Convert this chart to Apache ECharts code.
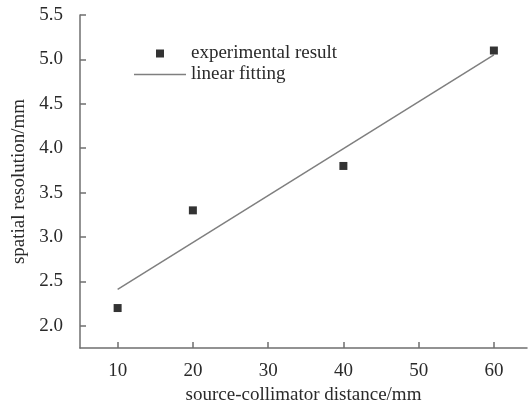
<!DOCTYPE html>
<html><head><meta charset="utf-8">
<script src="https://cdn.jsdelivr.net/npm/echarts@6/dist/echarts.min.js"></script>
<style>html,body{margin:0;padding:0;background:#fff}#c{width:528px;height:406px}</style>
</head><body><div id="c"></div>
<script>
const expX = [10, 20, 40, 60];
const expY = [2.2, 3.3, 3.8, 5.1];
const fitX = [10, 60];
const fitY = [2.41, 5.05];
const xTicks = [10, 20, 30, 40, 50, 60];
const yTicks = [2.0, 2.5, 3.0, 3.5, 4.0, 4.5, 5.0, 5.5];
const seriesNames = ['experimental result', 'linear fitting'];
const xName = 'source-collimator distance/mm';
const yName = 'spatial resolution/mm';

const font = '"Liberation Serif","Times New Roman",serif';
const axisColor = '#6f6f6f';
const textColor = '#2a2a2a';
const fitColor = '#7f7f7f';
const chart = echarts.init(document.getElementById('c'));
chart.setOption({
  animation: false,
  backgroundColor: '#fff',
  grid: {left: 80, top: 15, right: 1, bottom: 58, outerBoundsMode: 'none', containLabel: false},
  legend: {
    left: 129, top: 39, orient: 'vertical', itemWidth: 52, itemHeight: 8, itemGap: 2,
    symbolKeepAspect: true,
    textStyle: {fontFamily: font, fontSize: 19, color: textColor},
    data: [
      {name: seriesNames[0], icon: 'path://M0,0L1,0L1,1L0,1Z', itemStyle: {color: '#000'}},
      {name: seriesNames[1], icon: 'path://M0,0L52,0L52,1.4L0,1.4Z', itemStyle: {color: fitColor}}
    ]
  },
  xAxis: {
    type: 'value', min: 5, max: 64.4,
    name: xName, nameLocation: 'middle', nameGap: 35,
    nameTextStyle: {fontFamily: font, fontSize: 19, color: textColor},
    axisLine: {lineStyle: {color: axisColor, width: 1.5}},
    axisTick: {inside: true, length: 6, lineStyle: {color: axisColor, width: 1.5}, customValues: xTicks},
    axisLabel: {fontFamily: font, fontSize: 19, color: textColor, margin: 14, customValues: xTicks},
    splitLine: {show: false}
  },
  yAxis: {
    type: 'value', min: 1.75, max: 5.5,
    name: yName, nameLocation: 'middle', nameGap: 48, nameRotate: 90,
    nameTextStyle: {fontFamily: font, fontSize: 19, color: textColor},
    axisLine: {show: true, lineStyle: {color: axisColor, width: 1.5}},
    axisTick: {show: true, inside: true, length: 6, lineStyle: {color: axisColor, width: 1.5}, customValues: yTicks},
    axisLabel: {fontFamily: font, fontSize: 19, color: textColor, margin: 17, customValues: yTicks,
      formatter: v => v.toFixed(1)},
    splitLine: {show: false}
  },
  series: [
    {name: seriesNames[0], type: 'scatter', symbol: 'rect', symbolSize: 8,
     itemStyle: {color: '#000'}, data: expX.map((x, i) => [x, expY[i]]), z: 3},
    {name: seriesNames[1], type: 'line', symbol: 'none', showSymbol: false,
     lineStyle: {color: fitColor, width: 1.5}, itemStyle: {color: fitColor},
     data: fitX.map((x, i) => [x, fitY[i]])}
  ]
});
</script></body></html>
